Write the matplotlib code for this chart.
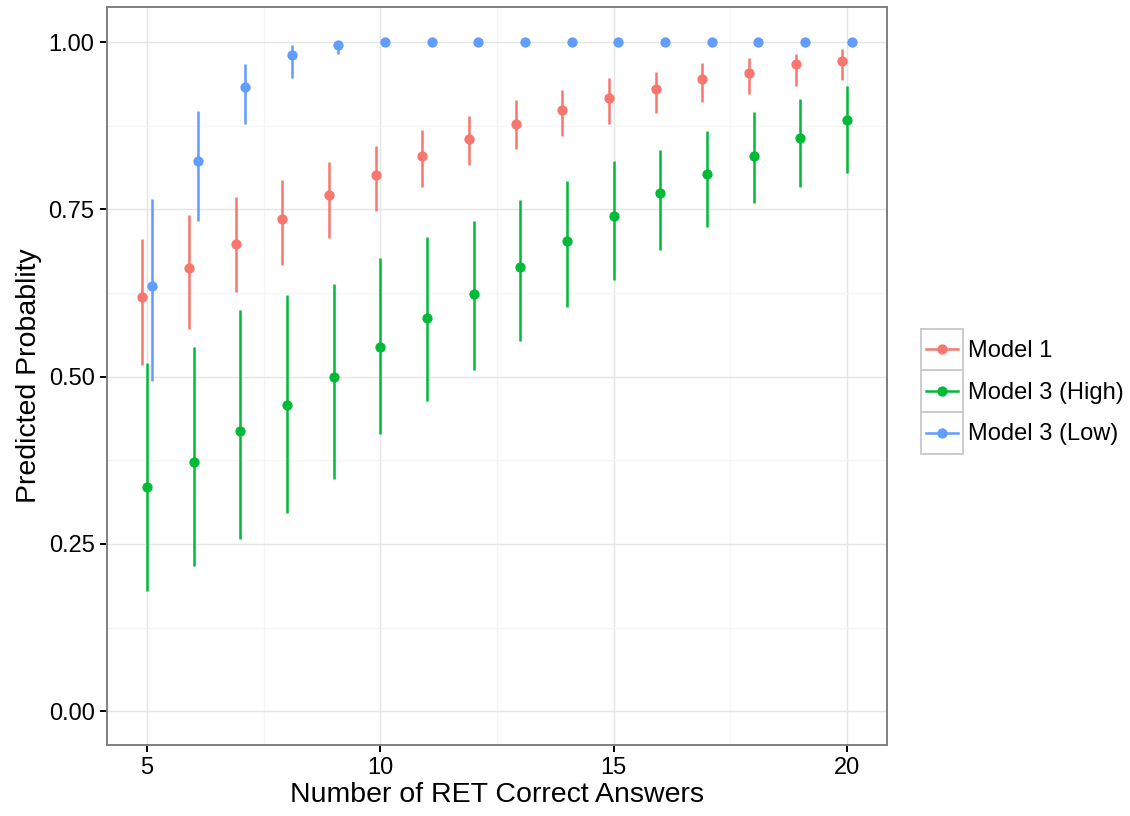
import numpy as np
import matplotlib.pyplot as plt
from matplotlib.lines import Line2D
from matplotlib.patches import Rectangle

plt.rcParams['font.family'] = ['Liberation Sans', 'DejaVu Sans']

# RET correct answers
ret = np.arange(5, 21)

# Model 1
m1_fit = [0.619, 0.663, 0.699, 0.735, 0.771, 0.802, 0.830, 0.855,
          0.878, 0.898, 0.917, 0.930, 0.945, 0.954, 0.967, 0.972]
m1_lo = [0.518, 0.571, 0.627, 0.667, 0.707, 0.747, 0.783, 0.817,
         0.840, 0.860, 0.877, 0.894, 0.910, 0.922, 0.935, 0.943]
m1_hi = [0.706, 0.741, 0.769, 0.794, 0.821, 0.845, 0.869, 0.890,
         0.914, 0.929, 0.946, 0.956, 0.969, 0.976, 0.983, 0.989]

# Model 3 (High)
hi_fit = [0.335, 0.373, 0.419, 0.458, 0.500, 0.545, 0.587, 0.623,
          0.664, 0.703, 0.740, 0.775, 0.803, 0.830, 0.857, 0.883]
hi_lo = [0.180, 0.217, 0.258, 0.296, 0.347, 0.415, 0.464, 0.510,
         0.553, 0.604, 0.645, 0.689, 0.724, 0.759, 0.784, 0.805]
hi_hi = [0.520, 0.545, 0.600, 0.622, 0.639, 0.677, 0.709, 0.733,
         0.764, 0.793, 0.823, 0.839, 0.867, 0.895, 0.915, 0.935]

# Model 3 (Low)
lo_fit = [0.636, 0.823, 0.933, 0.981, 0.996, 1.000, 1.000, 1.000,
          1.000, 1.000, 1.000, 1.000, 1.000, 1.000, 1.000, 1.000]
lo_lo = [0.493, 0.733, 0.877, 0.947, 0.983, 0.998, 0.999, 1.000,
         1.000, 1.000, 1.000, 1.000, 1.000, 1.000, 1.000, 1.000]
lo_hi = [0.766, 0.897, 0.967, 0.995, 0.999, 1.000, 1.000, 1.000,
         1.000, 1.000, 1.000, 1.000, 1.000, 1.000, 1.000, 1.000]

labels = ['Model 1', 'Model 3 (High)', 'Model 3 (Low)']
colors = ['#F8766D', '#00BA38', '#619CFF']
series = [(m1_fit, m1_lo, m1_hi), (hi_fit, hi_lo, hi_hi), (lo_fit, lo_lo, lo_hi)]
dodge = [-0.1, 0.0, 0.1]

fig = plt.figure(figsize=(11.3, 8.16), dpi=100)
ax = fig.add_axes([107 / 1130, 1 - 745 / 816, 780 / 1130, 738 / 816])

for (fit, lo, hi), c, d in zip(series, colors, dodge):
    x = ret + d
    ax.vlines(x, lo, hi, color=c, lw=1.8, zorder=3)
    ax.plot(x, fit, 'o', color=c, ms=7.4, mec='none', zorder=4)

ax.set_xlim(4.14, 20.86)
ax.set_ylim(-0.0505, 1.0525)
ax.set_xticks([5, 10, 15, 20])
ax.set_yticks([0, 0.25, 0.5, 0.75, 1.0])
ax.set_yticklabels(['0.00', '0.25', '0.50', '0.75', '1.00'])
ax.set_xticks([7.5, 12.5, 17.5], minor=True)
ax.set_yticks([0.125, 0.375, 0.625, 0.875], minor=True)
ax.grid(which='major', color='#e5e5e5', lw=1.0, zorder=0)
ax.grid(which='minor', color='#f5f5f5', lw=1.0, zorder=0)
ax.set_axisbelow(True)
ax.tick_params(which='major', length=5, width=1.4, color='black',
               labelsize=17, pad=4)
ax.tick_params(which='minor', length=0)
for s in ax.spines.values():
    s.set_color('#7f7f7f')
    s.set_linewidth(1.4)

ax.set_xlabel('Number of RET Correct Answers', fontsize=20.5, labelpad=2)
ax.set_ylabel('Predicted Probablity', fontsize=20.5, labelpad=5)

# legend in ggplot style (boxed keys)
lax = fig.add_axes([0, 0, 1, 1])
lax.set_xlim(0, 1130)
lax.set_ylim(816, 0)
lax.axis('off')
key_top, key_h = 328.5, 41.7
for i, (lab, c) in enumerate(zip(labels, colors)):
    y0 = key_top + i * key_h
    lax.add_patch(Rectangle((921, y0), 41.5, key_h, fill=False,
                            ec='#cccccc', lw=1.4))
    cy = y0 + key_h / 2
    lax.add_line(Line2D([926, 958], [cy, cy], color=c, lw=1.8))
    lax.plot([942], [cy], 'o', color=c, ms=7.4, mec='none')
    lax.text(968, cy + 1.5, lab, fontsize=17, va='center', ha='left')

fig.savefig('out.png', dpi=100)
